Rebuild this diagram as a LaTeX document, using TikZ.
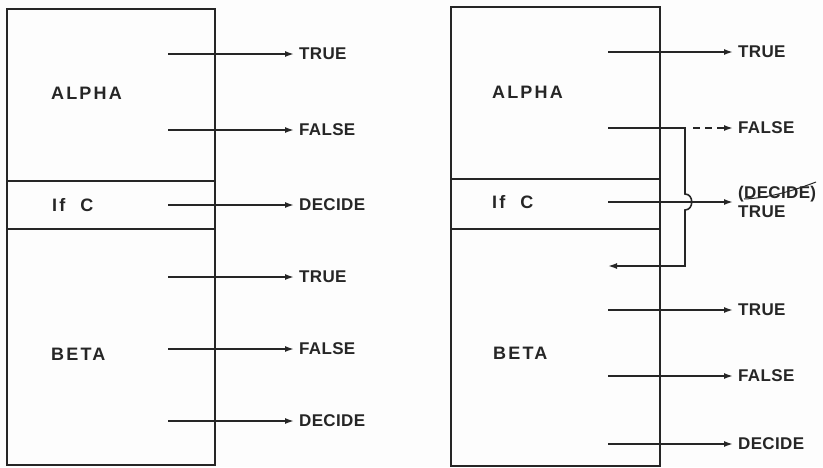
\documentclass[tikz,border=0pt]{standalone}
\usepackage{fontspec}
\usepackage{tikz}
\usetikzlibrary{arrows.meta,positioning}
\newfontfamily\lettering[LetterSpace=2]{Liberation Sans Bold}
\newfontfamily\boxlettering[LetterSpace=12]{Liberation Sans Bold}
\definecolor{ink}{HTML}{262626}
\definecolor{paper}{HTML}{FDFDFD}
\tikzset{
  blockbox/.style={draw=ink,line width=1.6pt},
  lbl/.style={font=\lettering\fontsize{17}{19}\selectfont,text=ink,inner sep=2pt},
  boxlbl/.style={font=\boxlettering\fontsize{18}{20}\selectfont,text=ink,inner sep=0pt,anchor=west},
  flowarr/.style={-{Latex[length=9pt,width=6pt]},line width=1.6pt,draw=ink,shorten >=3pt},
  backarr/.style={-{Latex[length=9pt,width=6pt]},line width=1.6pt,draw=ink}
}
\begin{document}
\begin{tikzpicture}[x=1pt,y=-1pt]
  \fill[paper] (0,0) rectangle (823,467);
  \useasboundingbox (0,0) rectangle (823,467);

  % left program: ALPHA, If C, BETA
  \draw[blockbox] (7,9) rectangle (215,465);
  \draw[blockbox] (7,181) -- (215,181);
  \draw[blockbox] (7,229) -- (215,229);
  \node[boxlbl] (alphaL) at (51,93) {ALPHA};
  \node[boxlbl] (ifcL) at (52,205) {If\hspace{15pt}C};
  \node[boxlbl] (betaL) at (51,354) {BETA};
  \foreach \y/\t/\n in {54/TRUE/tA,130/FALSE/fA,205/DECIDE/dC,277/TRUE/tB,349/FALSE/fB,421/DECIDE/dB} {
    \node[lbl,anchor=west] (L\n) at (297,\y) {\t};
    \coordinate (sL\n) at (168,\y);
    \draw[flowarr] (sL\n) -- (L\n.west);
  }

  % right program: FALSE of ALPHA looped back into BETA
  \draw[blockbox] (451,7) rectangle (660,466);
  \draw[blockbox] (451,179) -- (660,179);
  \draw[blockbox] (451,229) -- (660,229);
  \node[boxlbl] (alphaR) at (492,92) {ALPHA};
  \node[boxlbl] (ifcR) at (492,202) {If\hspace{15pt}C};
  \node[boxlbl] (betaR) at (493,353) {BETA};
  \foreach \y/\t/\n in {52/TRUE/tA,310/TRUE/tB,376/FALSE/fB,444/DECIDE/dB} {
    \node[lbl,anchor=west] (R\n) at (736,\y) {\t};
    \coordinate (sR\n) at (608,\y);
    \draw[flowarr] (sR\n) -- (R\n.west);
  }
  \node[lbl,anchor=west] (RfA) at (736,128) {FALSE};
  \node[lbl,anchor=west,align=left] (RdC) at (736,202) {(DECIDE)\\TRUE};
  \coordinate (sRfA) at (608,128);
  \coordinate (sRdC) at (608,202);
  \coordinate (dashR) at (693,128);
  \coordinate (backR) at (608,266);
  \draw[flowarr] (sRdC) -- (RdC.west);
  \draw[backarr] (sRfA) -- (685,128) -- (685,194)
    .. controls (694,194) and (694,210) .. (685,210) -- (685,266) -- (backR);
  \draw[flowarr,dash pattern=on 7pt off 5pt] (dashR) -- (RfA.west);
  \draw[ink,line width=1pt] (744,199) .. controls (770,198) and (795,190) .. (816,182);
\end{tikzpicture}
\end{document}
